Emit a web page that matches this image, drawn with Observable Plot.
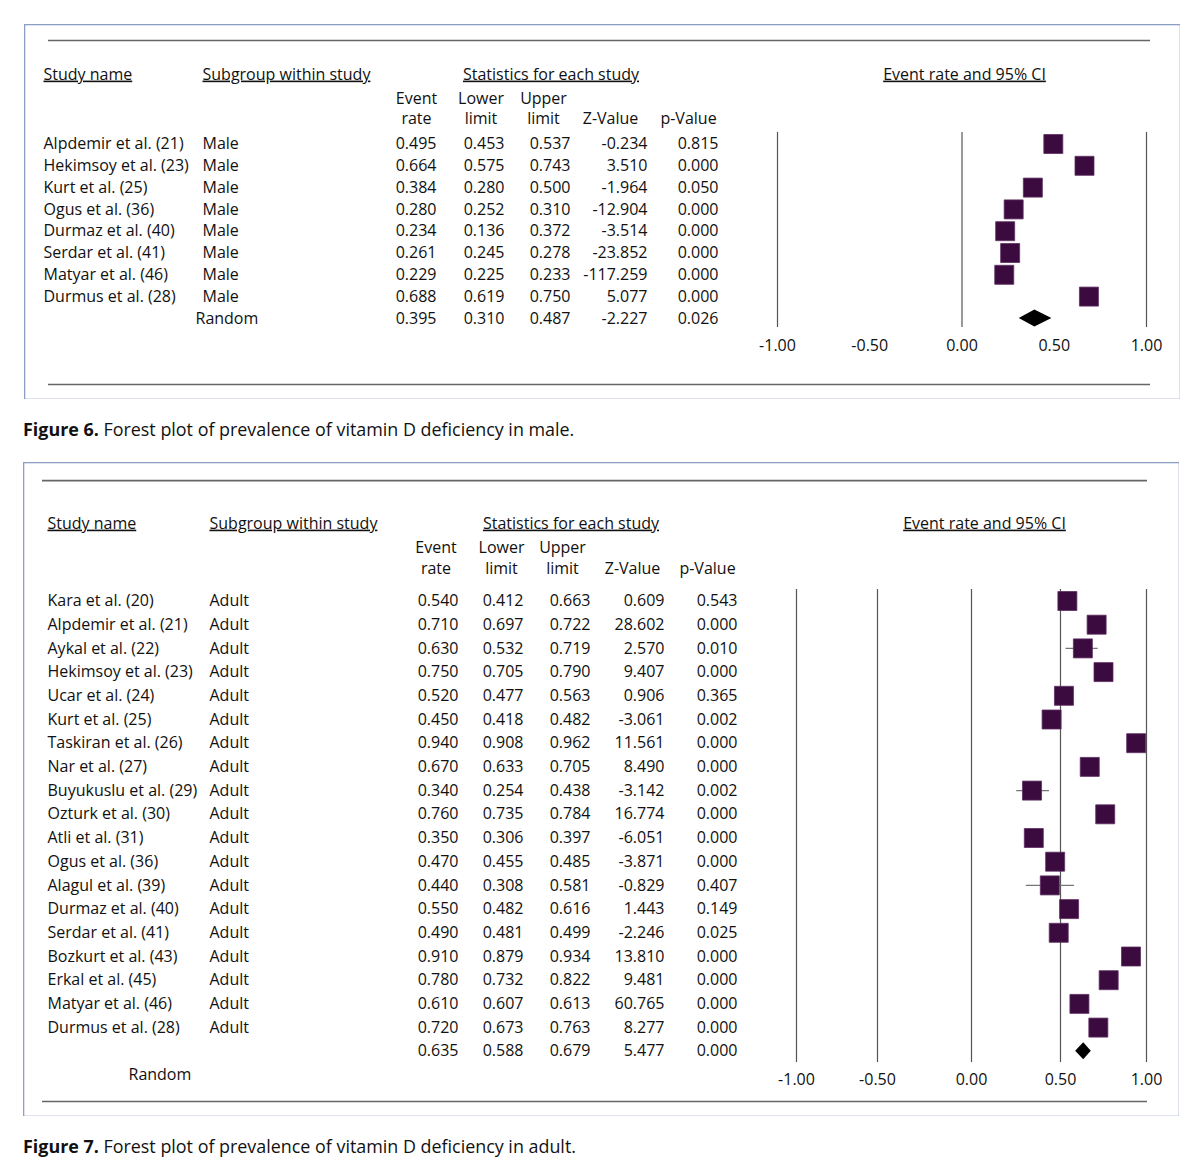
<!DOCTYPE html>
<html><head><meta charset="utf-8">
<script src="https://cdn.jsdelivr.net/npm/d3@7"></script>
<script src="https://cdn.jsdelivr.net/npm/@observablehq/plot@0.6"></script>
<style>
body{margin:0;background:#fff;font-family:"Open Sans",sans-serif;}
#page{position:relative;width:1200px;height:1163px;overflow:hidden;}
.panel{position:absolute;}
.caption{position:absolute;font-size:17.9px;line-height:24px;color:#111;white-space:nowrap;}
.caption b{font-weight:700;}
</style></head><body><div id="page"></div>
<script>
// ---------- Figure 6 (male) ----------
const maleStudies = ["Alpdemir et al. (21)","Hekimsoy et al. (23)","Kurt et al. (25)","Ogus et al. (36)","Durmaz et al. (40)","Serdar et al. (41)","Matyar et al. (46)","Durmus et al. (28)"];
const maleSubgroup = ["Male","Male","Male","Male","Male","Male","Male","Male"];
const maleRate  = [0.495,0.664,0.384,0.280,0.234,0.261,0.229,0.688];
const maleLower = [0.453,0.575,0.280,0.252,0.136,0.245,0.225,0.619];
const maleUpper = [0.537,0.743,0.500,0.310,0.372,0.278,0.233,0.750];
const maleZ     = [-0.234,3.510,-1.964,-12.904,-3.514,-23.852,-117.259,5.077];
const maleP     = [0.815,0.000,0.050,0.000,0.000,0.000,0.000,0.000];
const maleWhisker = [false,false,false,false,false,false,false,false];
// random effect: rate, lower, upper, z, p
const maleRandom = [0.395,0.310,0.487,-2.227,0.026];
const maleTicks = [-1,-0.5,0,0.5,1];
const maleGrid = [-1,0,1];

// ---------- Figure 7 (adult) ----------
const adultStudies = ["Kara et al. (20)","Alpdemir et al. (21)","Aykal et al. (22)","Hekimsoy et al. (23)","Ucar et al. (24)","Kurt et al. (25)","Taskiran et al. (26)","Nar et al. (27)","Buyukuslu et al. (29)","Ozturk et al. (30)","Atli et al. (31)","Ogus et al. (36)","Alagul et al. (39)","Durmaz et al. (40)","Serdar et al. (41)","Bozkurt et al. (43)","Erkal et al. (45)","Matyar et al. (46)","Durmus et al. (28)"];
const adultSubgroup = adultStudies.map(() => "Adult");
const adultRate  = [0.540,0.710,0.630,0.750,0.520,0.450,0.940,0.670,0.340,0.760,0.350,0.470,0.440,0.550,0.490,0.910,0.780,0.610,0.720];
const adultLower = [0.412,0.697,0.532,0.705,0.477,0.418,0.908,0.633,0.254,0.735,0.306,0.455,0.308,0.482,0.481,0.879,0.732,0.607,0.673];
const adultUpper = [0.663,0.722,0.719,0.790,0.563,0.482,0.962,0.705,0.438,0.784,0.397,0.485,0.581,0.616,0.499,0.934,0.822,0.613,0.763];
const adultZ     = [0.609,28.602,2.570,9.407,0.906,-3.061,11.561,8.490,-3.142,16.774,-6.051,-3.871,-0.829,1.443,-2.246,13.810,9.481,60.765,8.277];
const adultP     = [0.543,0.000,0.010,0.000,0.365,0.002,0.000,0.000,0.002,0.000,0.000,0.000,0.407,0.149,0.025,0.000,0.000,0.000,0.000];
const adultWhisker = adultStudies.map(s => ["Aykal et al. (22)","Buyukuslu et al. (29)","Alagul et al. (39)"].includes(s));
const adultRandom = [0.635,0.588,0.679,5.477,0.000];
const adultTicks = [-1,-0.5,0,0.5,1];
const adultGrid = [-1,-0.5,0,0.5,1];

const FONT = 16;
const TEXT = "#111";
const SQUARE_FILL = "#3b0b3f", SQUARE_STROKE = "#5e2f62";
const underlined = new Set(["Study name","Subgroup within study","Statistics for each study","Event rate and 95% CI"]);

function forest(cfg) {
  const rows = cfg.studies.map((s, i) => ({
    row: i, name: s, sub: cfg.subgroup[i], rate: cfg.rate[i], lower: cfg.lower[i],
    upper: cfg.upper[i], z: cfg.z[i], p: cfg.p[i], whisker: cfg.whisker[i]
  }));
  const rnd = {row: cfg.randomRow, rate: cfg.random[0], lower: cfg.random[1], upper: cfg.random[2], z: cfg.random[3], p: cfg.random[4]};
  const numRows = rows.concat([rnd]);
  const f3 = v => v.toFixed(3);
  const h = cfg.diamondHalf / cfg.rowPx;
  const diamond = [
    {y: rnd.row - h, x1: rnd.rate, x2: rnd.rate},
    {y: rnd.row, x1: rnd.lower, x2: rnd.upper},
    {y: rnd.row + h, x1: rnd.rate, x2: rnd.rate}
  ];
  const L = cfg.layout;
  const txt = (data, opts) => Plot.text(data, {frameAnchor: "left", fontSize: FONT, fill: TEXT, ...opts});
  const header = (label, row, x, anchor = "middle") =>
    txt([label], {y: () => row, text: d => d, dx: x, textAnchor: anchor});

  const svg = Plot.plot({
    width: cfg.width, height: cfg.height,
    margin: 0,
    style: {background: "transparent", fontFamily: "'Open Sans', sans-serif", fontSize: FONT + "px", color: TEXT},
    x: {type: "linear", domain: cfg.xDomain, range: cfg.xRange, axis: null},
    y: {type: "linear", domain: [0, cfg.randomRow], range: cfg.yRange, axis: null},
    marks: [
      Plot.frame({stroke: "#8e9fc6", strokeWidth: 1.6}),
      Plot.ruleY([L.topLine, L.bottomLine], {y: d => d, stroke: "#666", strokeWidth: 1.6, insetLeft: L.lineLeft, insetRight: L.lineRight}),
      Plot.ruleX(cfg.grid, {x: d => d, y1: L.gridTop, y2: L.gridBottom, stroke: "#555", strokeWidth: 1.2}),
      Plot.ruleY(rows.filter(d => d.whisker), {y: "row", x1: "lower", x2: "upper", stroke: "#777", strokeWidth: 1.2}),
      Plot.dot(rows, {x: "rate", y: "row", symbol: "square", r: cfg.squareSide / Math.sqrt(Math.PI), fill: SQUARE_FILL, stroke: SQUARE_STROKE, strokeWidth: 0.8}),
      Plot.areaX(diamond, {y: "y", x1: "x1", x2: "x2", fill: "black", curve: "linear"}),
      Plot.text(cfg.ticks, {x: d => d, y: () => L.axisRow, text: d => d.toFixed(2), fontSize: FONT, fill: TEXT}),
      // headers
      header("Study name", L.h1, L.colName, "start"),
      header("Subgroup within study", L.h1, L.colSub, "start"),
      header("Statistics for each study", L.h1, L.statsCenter),
      header("Event rate and 95% CI", L.h1, L.ciCenter),
      header("Event", L.h2, L.hRate), header("rate", L.h3, L.hRate),
      header("Lower", L.h2, L.hLower), header("limit", L.h3, L.hLower),
      header("Upper", L.h2, L.hUpper), header("limit", L.h3, L.hUpper),
      header("Z-Value", L.h3, L.hZ), header("p-Value", L.h3, L.hP),
      // table body
      txt(rows, {y: "row", text: "name", dx: L.colName, textAnchor: "start"}),
      txt(rows, {y: "row", text: "sub", dx: L.colSub, textAnchor: "start"}),
      header("Random", L.randomLabelRow, L.colRandom, "start"),
      txt(numRows, {y: "row", text: d => f3(d.rate), dx: L.cRate, textAnchor: "end"}),
      txt(numRows, {y: "row", text: d => f3(d.lower), dx: L.cLower, textAnchor: "end"}),
      txt(numRows, {y: "row", text: d => f3(d.upper), dx: L.cUpper, textAnchor: "end"}),
      txt(numRows, {y: "row", text: d => f3(d.z), dx: L.cZ, textAnchor: "end"}),
      txt(numRows, {y: "row", text: d => f3(d.p), dx: L.cP, textAnchor: "end"})
    ]
  });
  svg.querySelectorAll("text").forEach(t => {
    if (underlined.has(t.textContent)) t.style.textDecoration = "underline";
  });
  return svg;
}

const page = document.getElementById("page");
function place(el, left, top) {
  el.classList.add("panel");
  el.style.left = left + "px";
  el.style.top = top + "px";
  page.appendChild(el);
}

// Figure 6 panel: page box 24..1180 x 24..399
const fig6 = forest({
  studies: maleStudies, subgroup: maleSubgroup, rate: maleRate, lower: maleLower, upper: maleUpper,
  z: maleZ, p: maleP, whisker: maleWhisker, random: maleRandom, randomRow: 8,
  ticks: maleTicks, grid: maleGrid,
  width: 1156, height: 375,
  xDomain: [-1, 1], xRange: [753, 1122],
  yRange: [119.5, 119.5 + 21.8 * 8], rowPx: 21.8,
  squareSide: 19, diamondHalf: 8.5,
  layout: {
    topLine: -4.75, bottomLine: 11.03, lineLeft: 24, lineRight: 30,
    gridTop: -0.53, gridBottom: 8.42, axisRow: 9.24,
    h1: -3.19, h2: -2.09, h3: -1.17, randomLabelRow: 8,
    colName: 19, colSub: 178, colRandom: 171,
    statsCenter: 526.5, ciCenter: 940,
    hRate: 392, hLower: 456.5, hUpper: 519, hZ: 586, hP: 664,
    cRate: 412, cLower: 480, cUpper: 546, cZ: 623, cP: 694
  }
});
place(fig6, 24, 24);

const cap6 = document.createElement("div");
cap6.className = "caption";
cap6.innerHTML = "<b>Figure 6.</b> Forest plot of prevalence of vitamin D deficiency in male.";
cap6.style.left = "23px"; cap6.style.top = "417px";
page.appendChild(cap6);

// Figure 7 panel: page box 23..1179 x 462..1116
const fig7 = forest({
  studies: adultStudies, subgroup: adultSubgroup, rate: adultRate, lower: adultLower, upper: adultUpper,
  z: adultZ, p: adultP, whisker: adultWhisker, random: adultRandom, randomRow: 19,
  ticks: adultTicks, grid: adultGrid,
  width: 1156, height: 654,
  xDomain: [-1, -0.5, 0, 0.5, 1], xRange: [773, 854, 948, 1037, 1123],
  yRange: [138.5, 138.5 + 23.7 * 19], rowPx: 23.7,
  squareSide: 19, diamondHalf: 8.5,
  layout: {
    topLine: -5.08, bottomLine: 21.12, lineLeft: 19, lineRight: 32,
    gridTop: -0.49, gridBottom: 19.47, axisRow: 20.19,
    h1: -3.27, h2: -2.24, h3: -1.37, randomLabelRow: 20,
    colName: 24, colSub: 186, colRandom: 105,
    statsCenter: 547.5, ciCenter: 961,
    hRate: 412.5, hLower: 478, hUpper: 539, hZ: 609, hP: 684,
    cRate: 435, cLower: 500, cUpper: 567, cZ: 641, cP: 714
  }
});
place(fig7, 23, 462);

const cap7 = document.createElement("div");
cap7.className = "caption";
cap7.innerHTML = "<b>Figure 7.</b> Forest plot of prevalence of vitamin D deficiency in adult.";
cap7.style.left = "23px"; cap7.style.top = "1134px";
page.appendChild(cap7);
</script>
</body></html>
